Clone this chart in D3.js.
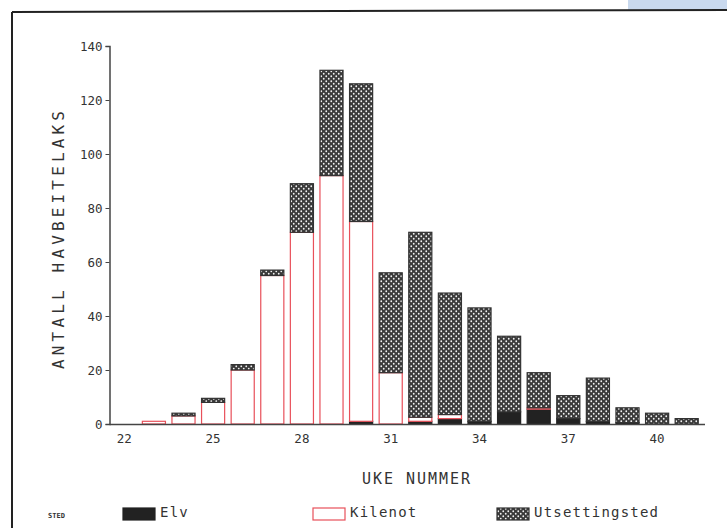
<!DOCTYPE html>
<html>
<head>
<meta charset="utf-8">
<script src="https://cdn.jsdelivr.net/npm/d3@7"></script>
<style>
  body { margin: 0; background: #fff; }
  svg { display: block; }
</style>
</head>
<body>
<svg id="chart" width="727" height="528"></svg>
<script>
// uke nummer 22 - 41
const weeks = [22, 23, 24, 25, 26, 27, 28, 29, 30, 31, 32, 33, 34, 35, 36, 37, 38, 39, 40, 41];
const elv = [0, 0, 0, 0, 0, 0, 0, 0, 1, 0, 1, 2, 1, 4.5, 5.5, 2, 1, 0.5, 0, 0];
const kilenot = [0, 1, 3, 8, 20, 55, 71, 92, 74, 19, 1.5, 1.5, 0, 0, 0.5, 0, 0, 0, 0, 0];
const utsettingsted = [0, 0, 1, 1.5, 2, 2, 18, 39, 51, 37, 68.5, 45, 42, 28, 13, 8.5, 16, 5.5, 4, 2];
const xTickLabels = [22, 25, 28, 31, 34, 37, 40];
const yTicks = [0, 20, 40, 60, 80, 100, 120, 140];
const seriesNames = ["Elv", "Kilenot", "Utsettingsted"];

const svg = d3.select("#chart");
const mono = "'DejaVu Sans Mono', 'Liberation Mono', monospace";

// frame of the scanned page
svg.append("rect").attr("x", 628).attr("y", 0).attr("width", 99).attr("height", 11).attr("fill", "#c9d9ee");
svg.append("line").attr("x1", 12).attr("y1", 12).attr("x2", 727).attr("y2", 10)
    .attr("stroke", "#222").attr("stroke-width", 2);
svg.append("line").attr("x1", 12).attr("y1", 12).attr("x2", 12).attr("y2", 528)
    .attr("stroke", "#222").attr("stroke-width", 2);

// dotted hatch for Utsettingsted
const defs = svg.append("defs");
const pat = defs.append("pattern")
    .attr("id", "dots")
    .attr("patternUnits", "userSpaceOnUse")
    .attr("width", 5).attr("height", 5);
pat.append("rect").attr("width", 5).attr("height", 5).attr("fill", "#3a3a3a");
pat.append("circle").attr("cx", 1.25).attr("cy", 1.25).attr("r", 0.9).attr("fill", "#f2f2f2");
pat.append("circle").attr("cx", 3.75).attr("cy", 3.75).attr("r", 0.9).attr("fill", "#f2f2f2");

const rows = weeks.map((w, i) => ({
    week: w,
    Elv: elv[i],
    Kilenot: kilenot[i],
    Utsettingsted: utsettingsted[i]
}));

const x = d3.scaleBand()
    .domain(weeks)
    .range([109.5, 701.5])
    .paddingInner(0.22)
    .paddingOuter(0.11);

const y = d3.scaleLinear().domain([0, 140]).range([424, 46]);

const stack = d3.stack().keys(seriesNames)(rows);

const fills = { Elv: "#222", Kilenot: "#fff", Utsettingsted: "url(#dots)" };
const strokes = { Elv: "#222", Kilenot: "#e8505a", Utsettingsted: "#333" };

svg.append("g")
    .selectAll("g")
    .data(stack)
    .join("g")
    .selectAll("rect")
    .data(d => d.map(p => ({ key: d.key, p: p })))
    .join("rect")
    .filter(d => d.p[1] - d.p[0] > 0)
    .attr("x", d => x(d.p.data.week))
    .attr("y", d => y(d.p[1]))
    .attr("width", x.bandwidth())
    .attr("height", d => y(d.p[0]) - y(d.p[1]))
    .attr("fill", d => fills[d.key])
    .attr("stroke", d => strokes[d.key])
    .attr("stroke-width", 1.2);

// y axis
const yAxis = d3.axisLeft(y).tickValues(yTicks).tickSize(4).tickPadding(3);
const gy = svg.append("g").attr("transform", "translate(109.5,0)").call(yAxis);
gy.select(".domain").attr("stroke", "#444").attr("stroke-width", 1.5);
gy.selectAll(".tick line").attr("stroke", "#444");
gy.selectAll(".tick text").attr("font-family", mono).attr("font-size", 12.5).attr("fill", "#333");

// x axis
const xAxis = d3.axisBottom(x)
    .tickValues(xTickLabels)
    .tickSize(0)
    .tickSizeOuter(0)
    .tickPadding(10);
const gx = svg.append("g").attr("transform", "translate(0,424.5)").call(xAxis);
gx.select(".domain").attr("d", "M109.5,0H705").attr("stroke", "#444").attr("stroke-width", 1.5);
gx.selectAll(".tick text").attr("font-family", mono).attr("font-size", 12.5).attr("fill", "#333");

// axis titles
svg.append("text")
    .attr("transform", "translate(64,240) rotate(-90)")
    .attr("text-anchor", "middle")
    .attr("font-family", mono)
    .attr("font-size", 16)
    .attr("fill", "#333")
    .attr("textLength", 258)
    .text("ANTALL HAVBEITELAKS");

svg.append("text")
    .attr("x", 416).attr("y", 484)
    .attr("text-anchor", "middle")
    .attr("font-family", mono)
    .attr("font-size", 15)
    .attr("fill", "#333")
    .attr("textLength", 108)
    .text("UKE NUMMER");

// legend
const legend = svg.append("g");
legend.append("text")
    .attr("x", 48).attr("y", 518)
    .attr("font-family", mono).attr("font-size", 7).attr("font-weight", "bold")
    .attr("fill", "#333").text("STED");

const legendX = [123, 313, 497];
const legendItems = legend.selectAll("g.item")
    .data(seriesNames)
    .join("g")
    .attr("class", "item")
    .attr("transform", (d, i) => `translate(${legendX[i]},0)`);
legendItems.append("rect")
    .attr("x", 0).attr("y", 508)
    .attr("width", 32).attr("height", 12)
    .attr("fill", d => fills[d])
    .attr("stroke", d => strokes[d])
    .attr("stroke-width", 1.2);
legendItems.append("text")
    .attr("x", 37).attr("y", 517)
    .attr("font-family", mono).attr("font-size", 14)
    .attr("fill", "#333")
    .attr("letter-spacing", 1.2)
    .text(d => d);
</script>
</body>
</html>
